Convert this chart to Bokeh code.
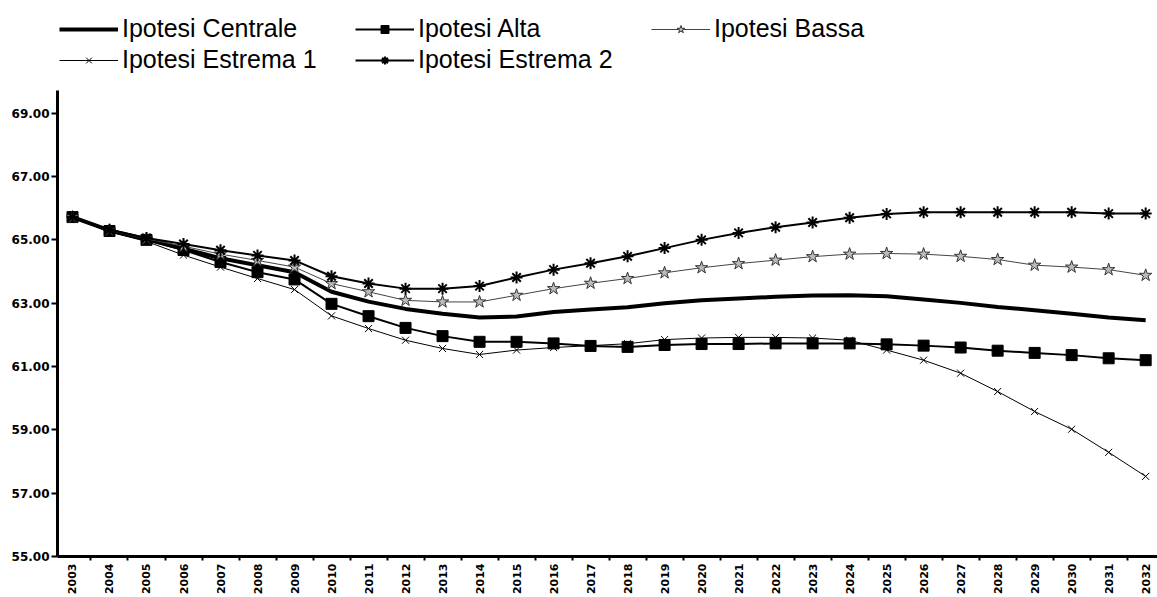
import math
from bokeh.plotting import figure
from bokeh.models import (Legend, LegendItem, FixedTicker, Range1d,
                          NumeralTickFormatter, ColumnDataSource)
from bokeh.embed import file_html
from bokeh.resources import INLINE

years = list(range(2003, 2033))

centrale = [65.72, 65.30, 65.02, 64.72, 64.42, 64.20, 63.98, 63.36, 63.05, 62.82,
            62.67, 62.55, 62.58, 62.72, 62.80, 62.87, 63.00, 63.09, 63.15, 63.20,
            63.24, 63.25, 63.22, 63.12, 63.01, 62.88, 62.78, 62.67, 62.55, 62.46]
alta = [65.72, 65.28, 65.00, 64.68, 64.30, 63.98, 63.75, 62.98, 62.59, 62.22,
        61.96, 61.78, 61.78, 61.73, 61.65, 61.62, 61.68, 61.71, 61.71, 61.73,
        61.73, 61.73, 61.70, 61.66, 61.60, 61.50, 61.43, 61.36, 61.26, 61.20]
bassa = [65.72, 65.30, 65.03, 64.80, 64.55, 64.35, 64.14, 63.62, 63.36, 63.09,
         63.04, 63.04, 63.25, 63.46, 63.63, 63.78, 63.96, 64.12, 64.25, 64.36,
         64.47, 64.55, 64.57, 64.55, 64.48, 64.38, 64.20, 64.14, 64.06, 63.88]
estrema1 = [65.72, 65.25, 64.95, 64.52, 64.14, 63.78, 63.43, 62.60, 62.20, 61.83,
            61.57, 61.38, 61.52, 61.60, 61.66, 61.72, 61.85, 61.90, 61.92, 61.92,
            61.90, 61.83, 61.52, 61.20, 60.79, 60.21, 59.58, 59.02, 58.29, 57.53]
estrema2 = [65.72, 65.32, 65.06, 64.87, 64.67, 64.51, 64.35, 63.85, 63.62, 63.46,
            63.46, 63.54, 63.81, 64.06, 64.26, 64.48, 64.74, 65.00, 65.22, 65.40,
            65.55, 65.70, 65.82, 65.87, 65.87, 65.87, 65.87, 65.87, 65.83, 65.83]

labels = ["Ipotesi Centrale", "Ipotesi Alta", "Ipotesi Bassa",
          "Ipotesi Estrema 1", "Ipotesi Estrema 2"]
y_ticks = [55, 57, 59, 61, 63, 65, 67, 69]

src = ColumnDataSource(dict(x=years, c=centrale, a=alta, b=bassa,
                            e1=estrema1, e2=estrema2))

p = figure(width=1157, height=597, output_backend="svg", toolbar_location=None,
           x_range=Range1d(2002.595, 2032.32), y_range=Range1d(55, 72.56),
           min_border_left=57, min_border_right=0, min_border_top=0,
           min_border_bottom=20)
p.outline_line_color = None
p.xgrid.visible = False
p.ygrid.visible = False
p.background_fill_color = "white"

r_c = p.line("x", "c", source=src, line_color="black", line_width=4)

r_a = p.line("x", "a", source=src, line_color="black", line_width=2)
m_a = p.scatter("x", "a", source=src, marker="square", size=11,
                fill_color="black", line_color="black")

r_b = p.line("x", "b", source=src, line_color="#444444", line_width=1)
m_b = p.scatter("x", "b", source=src, marker="star", size=13,
                fill_color="#bbbbbb", line_color="#333333", line_width=1)

r_e1 = p.line("x", "e1", source=src, line_color="black", line_width=1)
m_e1 = p.scatter("x", "e1", source=src, marker="x", size=10,
                 line_color="black", line_width=1)

r_e2 = p.line("x", "e2", source=src, line_color="black", line_width=2)
m_e2 = p.scatter("x", "e2", source=src, marker="asterisk", size=12,
                 line_color="black", line_width=2)

# axes
tick_font = "DejaVu Sans"
p.yaxis.bounds = (55, 69.73)
p.yaxis.ticker = FixedTicker(ticks=y_ticks)
p.yaxis.formatter = NumeralTickFormatter(format="0.00")
p.yaxis.major_label_text_font = tick_font
p.yaxis.major_label_text_font_style = "bold"
p.yaxis.major_label_text_font_size = "12px"
p.yaxis.major_label_text_color = "black"
p.yaxis.axis_line_width = 3
p.yaxis.axis_line_color = "black"
p.yaxis.major_tick_out = 6
p.yaxis.major_tick_in = 0
p.yaxis.minor_tick_out = 0
p.yaxis.minor_tick_in = 0
p.yaxis.major_label_standoff = 2
p.yaxis.major_tick_line_width = 2
p.yaxis.axis_label = None

p.xaxis.ticker = FixedTicker(ticks=years,
                             minor_ticks=[y + 0.5 for y in range(2002, 2033)])
p.xaxis.major_label_orientation = math.pi / 2
p.xaxis.major_label_text_font = tick_font
p.xaxis.major_label_text_font_style = "bold"
p.xaxis.major_label_text_font_size = "11px"
p.xaxis.major_label_text_color = "black"
p.xaxis.axis_line_width = 3
p.xaxis.axis_line_color = "black"
p.xaxis.major_tick_out = 0
p.xaxis.major_tick_in = 0
p.xaxis.minor_tick_out = 4
p.xaxis.minor_tick_in = 0
p.xaxis.minor_tick_line_width = 2
p.xaxis.minor_tick_line_color = "black"
p.xaxis.major_label_standoff = 3
p.xaxis.axis_label = None

items = [
    LegendItem(label=labels[0], renderers=[r_c]),
    LegendItem(label=labels[1], renderers=[r_a, m_a]),
    LegendItem(label=labels[2], renderers=[r_b, m_b]),
    LegendItem(label=labels[3], renderers=[r_e1, m_e1]),
    LegendItem(label=labels[4], renderers=[r_e2, m_e2]),
]
legend = Legend(items=items, location=(2, 482), orientation="horizontal",
                ncols=3, glyph_width=59, glyph_height=20, label_standoff=4,
                label_width=231, spacing=2, padding=0, margin=0,
                border_line_color=None, background_fill_alpha=0,
                label_text_font="Liberation Sans", label_text_font_size="25px",
                label_text_color="black", click_policy="none")
p.add_layout(legend)

open("out.html", "w").write(file_html(p, INLINE))
